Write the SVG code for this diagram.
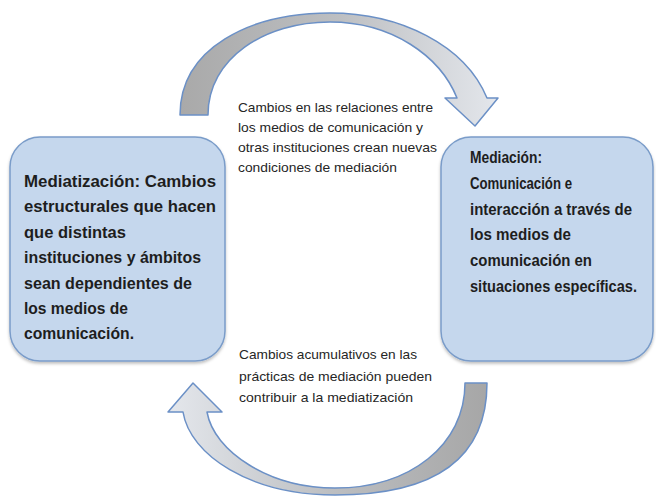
<svg xmlns="http://www.w3.org/2000/svg" width="656" height="497" viewBox="0 0 656 497">
<defs>
<style>
.box{fill:#c5d7ed;stroke:#7a9cc9;stroke-width:1.5}
.arrow{stroke:#6b90c6;stroke-width:1.5;stroke-linejoin:round}
.bt{font-family:"Liberation Sans",Arial,sans-serif;font-weight:bold;font-size:16px;fill:#1e1e1e}
.mt{font-family:"Liberation Sans",Arial,sans-serif;font-size:13.5px;fill:#262626}
</style>
<linearGradient id="gTop" x1="180" y1="0" x2="500" y2="0" gradientUnits="userSpaceOnUse">
<stop offset="0" stop-color="#a9a9a9"/>
<stop offset="0.5" stop-color="#bdbfc2"/>
<stop offset="1" stop-color="#e4e7ec"/>
</linearGradient>
<linearGradient id="gBot" x1="168" y1="0" x2="490" y2="0" gradientUnits="userSpaceOnUse">
<stop offset="0" stop-color="#e4e7ec"/>
<stop offset="0.5" stop-color="#bdbfc2"/>
<stop offset="1" stop-color="#a6a6a6"/>
</linearGradient>
<filter id="sh" x="-10%" y="-10%" width="120%" height="120%">
<feDropShadow dx="0" dy="2" stdDeviation="1.5" flood-color="#000" flood-opacity="0.25"/>
</filter>
</defs>

<g id="connectors">
<path id="arrow-top" class="arrow" fill="url(#gTop)" d="M180,115 C180,48 250,13 330,13 C400,13 465,45 487,98 L498,98 L475,126 L445,98 L457,98 C440,56 392,22 330,22 C265,22 208,58 208,115 Z"/>
<path id="arrow-bottom" class="arrow" fill="url(#gBot)" d="M487,383 C487,455 440,495 335,495 C250,495 190,455 183,412 L168,412 L193,383 L222,412 L207,412 C214,452 270,488 335,488 C410,488 465,445 465,383 Z"/>
</g>

<g id="label-top">
<text class="mt" x="238" y="112" textLength="195" lengthAdjust="spacingAndGlyphs">Cambios en las relaciones entre</text>
<text class="mt" x="238" y="132" textLength="185" lengthAdjust="spacingAndGlyphs">los medios de comunicación y</text>
<text class="mt" x="238" y="152" textLength="199" lengthAdjust="spacingAndGlyphs">otras instituciones crean nuevas</text>
<text class="mt" x="238" y="172" textLength="159" lengthAdjust="spacingAndGlyphs">condiciones de mediación</text>
</g>

<g id="label-bottom">
<text class="mt" x="239" y="359" textLength="178" lengthAdjust="spacingAndGlyphs">Cambios acumulativos en las</text>
<text class="mt" x="239" y="381" textLength="193" lengthAdjust="spacingAndGlyphs">prácticas de mediación pueden</text>
<text class="mt" x="239" y="402" textLength="174" lengthAdjust="spacingAndGlyphs">contribuir a la mediatización</text>
</g>

<g id="node-mediatizacion">
<rect class="box" x="10" y="137" width="215" height="224" rx="30" ry="30" filter="url(#sh)"/>
<text class="bt" x="24" y="187" textLength="192" lengthAdjust="spacingAndGlyphs">Mediatización: Cambios</text>
<text class="bt" x="24" y="212" textLength="192" lengthAdjust="spacingAndGlyphs">estructurales que hacen</text>
<text class="bt" x="24" y="238" textLength="102" lengthAdjust="spacingAndGlyphs">que distintas</text>
<text class="bt" x="24" y="263" textLength="177" lengthAdjust="spacingAndGlyphs">instituciones y ámbitos</text>
<text class="bt" x="24" y="289" textLength="168" lengthAdjust="spacingAndGlyphs">sean dependientes de</text>
<text class="bt" x="24" y="314" textLength="104" lengthAdjust="spacingAndGlyphs">los medios de</text>
<text class="bt" x="24" y="339" textLength="110" lengthAdjust="spacingAndGlyphs">comunicación.</text>
</g>

<g id="node-mediacion">
<rect class="box" x="441" y="137" width="212" height="224" rx="30" ry="30" filter="url(#sh)"/>
<text class="bt" x="470" y="163" textLength="72" lengthAdjust="spacingAndGlyphs">Mediación:</text>
<text class="bt" x="470" y="189" textLength="102" lengthAdjust="spacingAndGlyphs">Comunicación e</text>
<text class="bt" x="470" y="215" textLength="162" lengthAdjust="spacingAndGlyphs">interacción a través de</text>
<text class="bt" x="470" y="240" textLength="101" lengthAdjust="spacingAndGlyphs">los medios de</text>
<text class="bt" x="470" y="266" textLength="122" lengthAdjust="spacingAndGlyphs">comunicación en</text>
<text class="bt" x="470" y="292" textLength="167" lengthAdjust="spacingAndGlyphs">situaciones específicas.</text>
</g>
</svg>
